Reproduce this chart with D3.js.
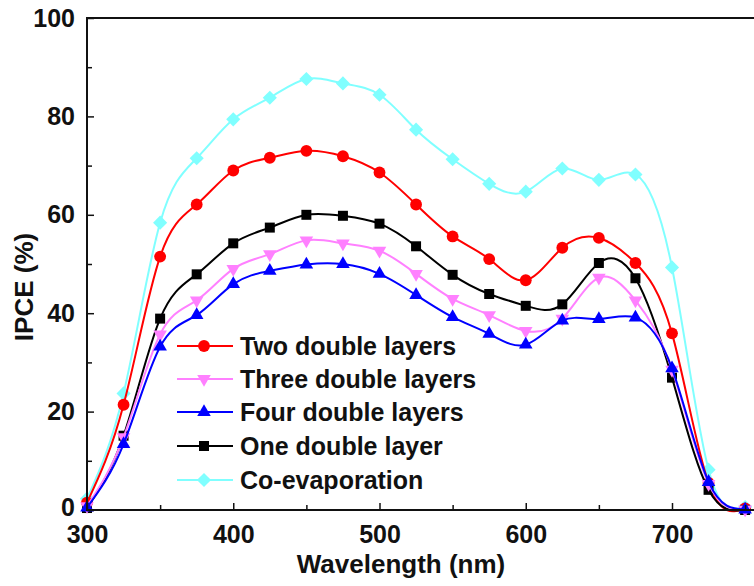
<!DOCTYPE html>
<html>
<head>
<meta charset="utf-8">
<script src="https://cdn.jsdelivr.net/npm/d3@7"></script>
<style>
html,body{margin:0;padding:0;background:#fff;}
svg{display:block;}
text{font-family:"Liberation Sans",Arial,sans-serif;font-weight:bold;fill:#111;}
</style>
</head>
<body>
<svg id="chart" width="754" height="586"></svg>
<script>
const wavelengths = [300,325,350,375,400,425,450,475,500,525,550,575,600,625,650,675,700,725,750];
const twoDouble   = [1.5,21.4,51.5,62.1,69.0,71.6,73.0,71.9,68.6,62.1,55.6,51.0,46.7,53.3,55.3,50.2,35.9,5.5,0.3];
const threeDouble = [0.8,14.8,35.7,42.6,49.0,52.0,54.8,54.2,52.7,48.0,42.9,39.6,36.4,38.9,47.2,42.6,28.5,5.3,0.1];
const fourDouble  = [0.5,13.4,33.2,39.6,45.9,48.6,49.9,50.0,48.0,43.7,39.2,35.8,33.6,38.5,38.8,39.1,28.8,5.7,0.1];
const oneDouble   = [0.4,15.1,38.9,47.9,54.2,57.4,60.0,59.8,58.2,53.6,47.8,43.9,41.5,41.8,50.2,47.1,26.9,4.1,0.0];
const coEvap      = [2.3,23.7,58.4,71.5,79.4,83.8,87.6,86.7,84.4,77.3,71.3,66.3,64.7,69.4,67.1,68.2,49.3,8.2,0.6];
const seriesNames = ["Two double layers","Three double layers","Four double layers","One double layer","Co-evaporation"];
const xTicks = [300,400,500,600,700];
const yTicks = [0,20,40,60,80,100];

const seriesValues = [twoDouble, threeDouble, fourDouble, oneDouble, coEvap];
const colors = ["#ff0000","#ff80ff","#0000ff","#000000","#80ffff"];
const shapes = ["circle","down","up","square","diamond"];

const svg = d3.select("#chart");
const x = d3.scaleLinear().domain([300,760]).range([87, 87 + 460*1.4625]);
const y = d3.scaleLinear().domain([0,100]).range([510, 18]);

const line = d3.line().x(d => x(d[0])).y(d => y(d[1])).curve(d3.curveNatural);
const drawOrder = [4,0,3,1,2];
function markerPath(i){
  const s = shapes[i];
  if (s === "circle") return d3.symbol().type(d3.symbolCircle).size(110)();
  if (s === "square") return d3.symbol().type(d3.symbolSquare).size(100)();
  if (s === "diamond") return d3.symbol().type(d3.symbolSquare).size(100)();
  return d3.symbol().type(d3.symbolTriangle).size(80)();
}
function markerRot(i){
  const s = shapes[i];
  if (s === "down") return " rotate(180)";
  if (s === "diamond") return " rotate(45)";
  return "";
}
drawOrder.forEach(i => {
  const pts = wavelengths.map((w,k) => [w, seriesValues[i][k]]);
  const g = svg.append("g");
  g.append("path").attr("d", line(pts)).attr("fill","none")
    .attr("stroke", colors[i]).attr("stroke-width", 2);
  g.selectAll("path.m").data(pts).enter().append("path").attr("class","m")
    .attr("d", markerPath(i))
    .attr("transform", d => `translate(${x(d[0])},${y(d[1])})` + markerRot(i))
    .attr("fill", colors[i]);
});

// frame
const xEnd = x(760);
svg.append("line").attr("x1",87).attr("x2",xEnd).attr("y1",18).attr("y2",18).attr("stroke","#111").attr("stroke-width",2);
svg.append("line").attr("x1",87).attr("x2",xEnd).attr("y1",510).attr("y2",510).attr("stroke","#111").attr("stroke-width",2);
svg.append("line").attr("x1",87).attr("x2",87).attr("y1",17).attr("y2",511).attr("stroke","#111").attr("stroke-width",2);

// x axis
const xAxis = d3.axisBottom(x).tickValues(xTicks).tickSize(-7).tickPadding(15).tickFormat(d3.format("d"));
const gx = svg.append("g").attr("transform","translate(0,510)").call(xAxis);
gx.select(".domain").remove();
gx.selectAll("line").attr("stroke","#111").attr("stroke-width",1.5);
gx.selectAll("text").attr("font-size",25).attr("fill","#111").attr("font-family","Liberation Sans, Arial, sans-serif").attr("font-weight","bold");
const xMinor = d3.axisBottom(x).tickValues([350,450,550,650,750]).tickSize(-5).tickFormat("");
const gxm = svg.append("g").attr("transform","translate(0,510)").call(xMinor);
gxm.select(".domain").remove();
gxm.selectAll("line").attr("stroke","#111").attr("stroke-width",1.5);

// y axis
const yAxis = d3.axisLeft(y).tickValues(yTicks).tickSize(-7).tickPadding(12).tickFormat(d3.format("d"));
const gy = svg.append("g").attr("transform","translate(87,0)").call(yAxis);
gy.select(".domain").remove();
gy.selectAll("line").attr("stroke","#111").attr("stroke-width",1.5);
gy.selectAll("text").attr("font-size",25).attr("fill","#111").attr("font-family","Liberation Sans, Arial, sans-serif").attr("font-weight","bold");
gy.selectAll(".tick").filter(d => d === 0).select("text").attr("dy","0.2em");
const yMinor = d3.axisLeft(y).tickValues([10,30,50,70,90]).tickSize(-5).tickFormat("");
const gym = svg.append("g").attr("transform","translate(87,0)").call(yMinor);
gym.select(".domain").remove();
gym.selectAll("line").attr("stroke","#111").attr("stroke-width",1.5);

// titles
svg.append("text").attr("x",401).attr("y",573).attr("text-anchor","middle").attr("font-size",26).text("Wavelength (nm)");
svg.append("text").attr("transform","translate(33,287) rotate(-90)").attr("text-anchor","middle").attr("font-size",26).text("IPCE (%)");

// legend
const legY = [346,379,412,446,480];
seriesNames.forEach((name,i) => {
  const g = svg.append("g");
  g.append("line").attr("x1",177).attr("x2",233).attr("y1",legY[i]).attr("y2",legY[i]).attr("stroke",colors[i]).attr("stroke-width",2);
  g.append("path").attr("d", markerPath(i))
    .attr("transform", `translate(204,${legY[i]})` + markerRot(i))
    .attr("fill", colors[i]);
  g.append("text").attr("x",240).attr("y",legY[i]+9).attr("font-size",25).text(name);
});
</script>
</body>
</html>
